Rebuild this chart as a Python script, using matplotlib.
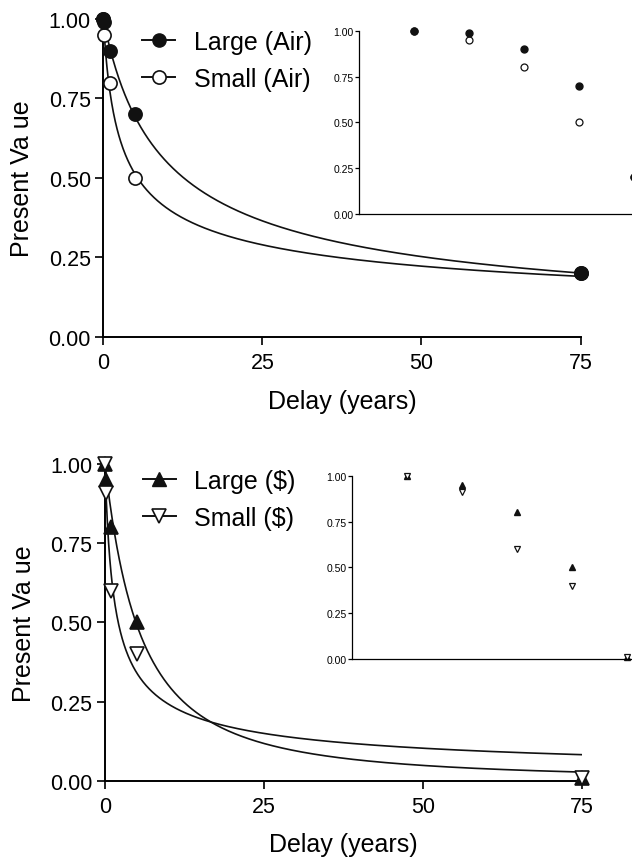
import numpy as np
import matplotlib
matplotlib.use("Agg")
import matplotlib.pyplot as plt
from matplotlib.lines import Line2D

plt.rcParams['font.family'] = ['Liberation Sans', 'DejaVu Sans']

# Delays (years) and present-value data
delays = [0.0, 1 / 12, 1.0, 5.0, 75.0]
large_air = [1.00, 0.99, 0.90, 0.70, 0.20]
small_air = [1.00, 0.95, 0.80, 0.50, 0.20]
large_usd = [1.00, 0.95, 0.80, 0.50, 0.01]
small_usd = [1.00, 0.91, 0.60, 0.40, 0.01]

# Hyperboloid discount fits V = 1 / (1 + k D)^s
fit_large_air = (0.16, 0.627)
fit_small_air = (0.90, 0.393)
fit_large_usd = (0.11, 1.62)
fit_small_usd = (1.20, 0.554)

y_ticks = [0.00, 0.25, 0.50, 0.75, 1.00]
x_ticks = [0, 25, 50, 75]

W, H = 632, 862
fig = plt.figure(figsize=(W / 100, H / 100), dpi=100)


def px_axes(left, top, right, bottom):
    return fig.add_axes([left / W, 1 - bottom / H, (right - left) / W, (bottom - top) / H])


def hyperboloid(d, k, s):
    return 1.0 / (1.0 + k * d) ** s


def style_main(ax, xlabel_y):
    ax.set_xlim(0, 75)
    ax.set_ylim(0, 1)
    ax.set_xticks(x_ticks)
    ax.set_yticks(y_ticks)
    ax.set_yticklabels([f"{v:.2f}" for v in y_ticks])
    for side in ("top", "right"):
        ax.spines[side].set_visible(False)
    for side in ("left", "bottom"):
        ax.spines[side].set_linewidth(1.4)
    ax.tick_params(axis="both", labelsize=15.5, width=1.4, length=6, color="#222222")
    ax.tick_params(axis="x", pad=5)
    ax.tick_params(axis="y", pad=3)
    ax.set_xlabel("Delay (years)", fontsize=18, va="center")
    ax.set_ylabel("Present Va ue", fontsize=18, va="center")
    ax.xaxis.set_label_coords(0.5, xlabel_y)
    ax.yaxis.set_label_coords(-0.17, 0.5)


def style_inset(ax):
    ax.set_xlim(0, 6)
    ax.set_ylim(0, 1)
    ax.set_xticks([])
    ax.set_yticks(y_ticks)
    ax.set_yticklabels([f"{v:.2f}" for v in y_ticks])
    for side in ("top", "right"):
        ax.spines[side].set_visible(False)
    for side in ("left", "bottom"):
        ax.spines[side].set_linewidth(0.9)
    ax.tick_params(axis="y", labelsize=7.5, width=0.9, length=3, pad=1)
    ax.patch.set_alpha(0)


d_curve = np.linspace(0, 75, 800)
cat_pos = np.arange(1, len(delays) + 1)

# ---------------- top panel: air quality ----------------
ax1 = px_axes(103.3, 20, 580.5, 337.7)
style_main(ax1, -0.2024)
ax1.plot(d_curve, hyperboloid(d_curve, *fit_large_air), color="#111111", lw=1.2)
ax1.plot(d_curve, hyperboloid(d_curve, *fit_small_air), color="#111111", lw=1.2)
ax1.plot(delays, small_air, "o", ms=9.5, mfc="white", mec="#111111", mew=1.2, clip_on=False, zorder=5)
ax1.plot(delays, large_air, "o", ms=9.5, mfc="#111111", mec="#111111", mew=1.2, clip_on=False, zorder=6)
h1 = [Line2D([], [], color="#111111", lw=1.4, marker="o", ms=9.5, mfc="#111111", mec="#111111"),
      Line2D([], [], color="#111111", lw=1.4, marker="o", ms=9.5, mfc="white", mec="#111111", mew=1.2)]
ax1.legend(h1, ["Large (Air)", "Small (Air)"], loc="upper left", bbox_to_anchor=(0.082, 0.966),
           frameon=False, fontsize=18, handlelength=1.3, handletextpad=0.75, labelspacing=0.51,
           borderpad=0, borderaxespad=0)

ins1 = px_axes(359.3, 31.7, 359.3 + 330, 215)
style_inset(ins1)
ins1.plot(cat_pos, small_air, "o", ms=5, mfc="white", mec="#111111", mew=0.9, ls="none", clip_on=False)
ins1.plot(cat_pos, large_air, "o", ms=5, mfc="#111111", mec="#111111", ls="none", clip_on=False)

# ---------------- bottom panel: money ----------------
ax2 = px_axes(105, 465, 582, 781.7)
style_main(ax2, -0.20)
ax2.plot(d_curve, hyperboloid(d_curve, *fit_large_usd), color="#111111", lw=1.2)
ax2.plot(d_curve, hyperboloid(d_curve, *fit_small_usd), color="#111111", lw=1.2)
ax2.plot(delays, large_usd, "^", ms=9.5, mfc="#111111", mec="#111111", mew=1.2, clip_on=False, zorder=5)
ax2.plot(delays, small_usd, "v", ms=9.5, mfc="white", mec="#111111", mew=1.2, clip_on=False, zorder=6)
h2 = [Line2D([], [], color="#111111", lw=1.4, marker="^", ms=9.5, mfc="#111111", mec="#111111"),
      Line2D([], [], color="#111111", lw=1.4, marker="v", ms=9.5, mfc="white", mec="#111111", mew=1.2)]
ax2.legend(h2, ["Large ($)", "Small ($)"], loc="upper left", bbox_to_anchor=(0.08, 0.985),
           frameon=False, fontsize=18, handlelength=1.3, handletextpad=0.75, labelspacing=0.53,
           borderpad=0, borderaxespad=0)

ins2 = px_axes(352.3, 476.7, 352.3 + 330, 660)
style_inset(ins2)
ins2.plot(cat_pos, large_usd, "^", ms=5, mfc="#111111", mec="#111111", ls="none", clip_on=False)
ins2.plot(cat_pos, small_usd, "v", ms=5, mfc="white", mec="#111111", mew=0.9, ls="none", clip_on=False)

fig.savefig("out.png", dpi=100)
